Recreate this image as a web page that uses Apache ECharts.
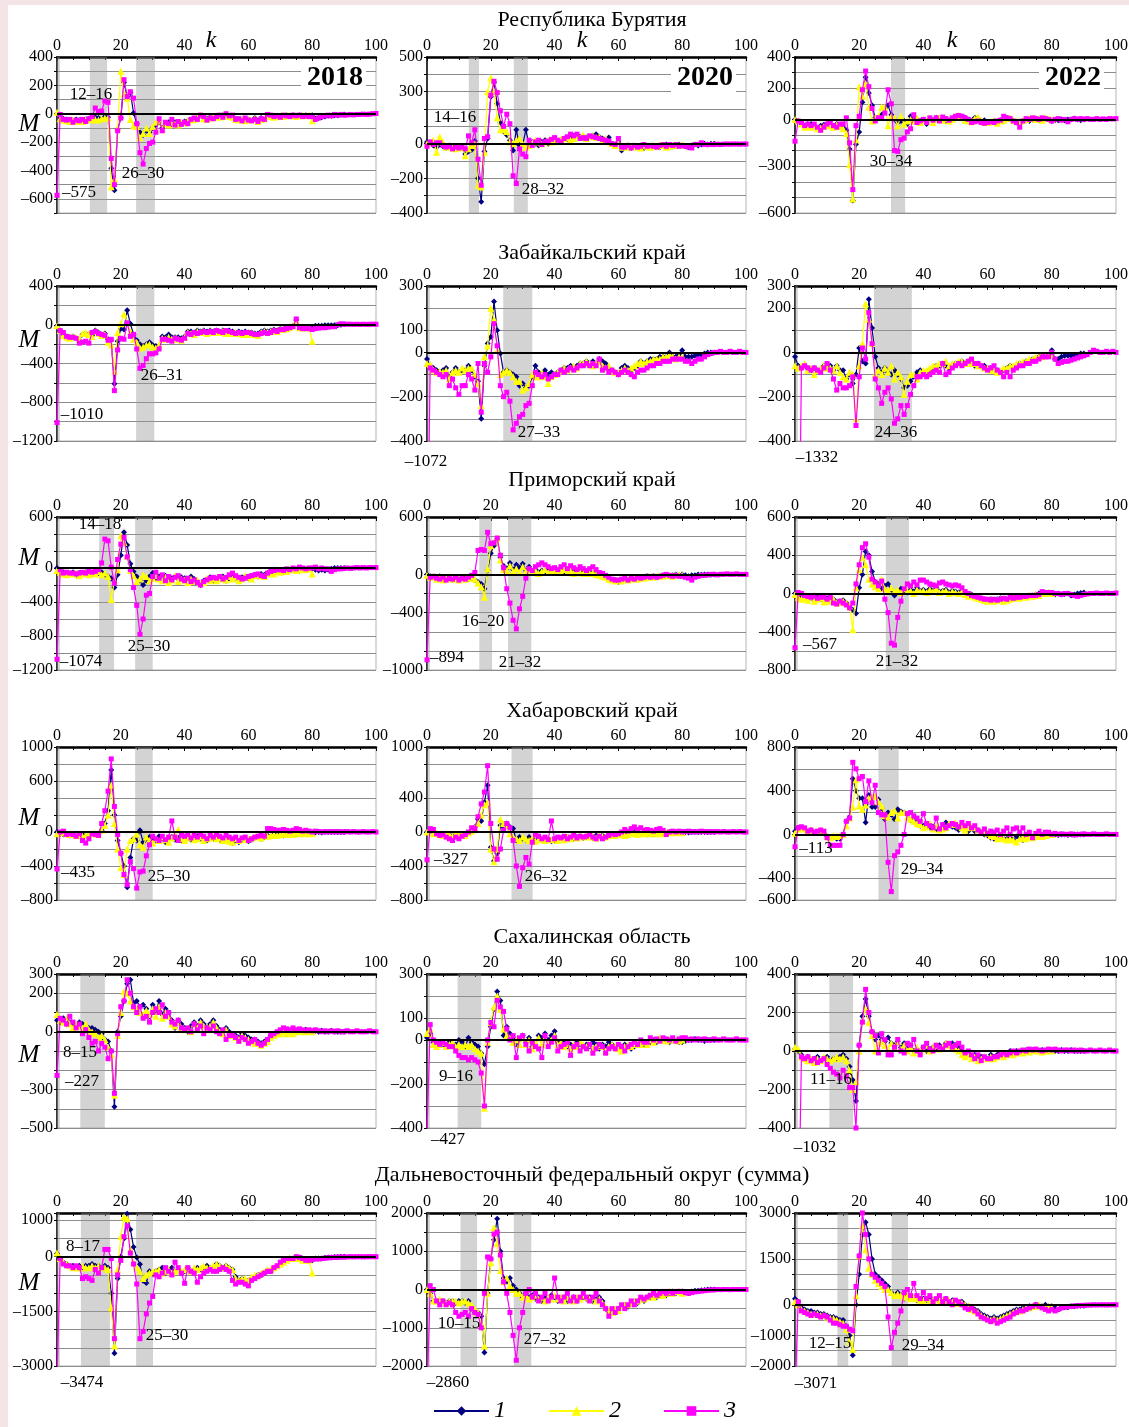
<!DOCTYPE html>
<html><head><meta charset="utf-8">
<script src="https://cdn.jsdelivr.net/npm/echarts@6/dist/echarts.min.js"></script>
<style>html,body{margin:0;padding:0;background:#fff}#c{width:1129px;height:1427px}</style>
</head><body><div id="c"></div>
<script>
const K_TICKS = [0, 20, 40, 60, 80, 100];
const SERIES_NAMES = ['1', '2', '3'];
const YEARS = ['2018', '2020', '2022'];
const REGIONS = ['Республика Бурятия', 'Забайкальский край', 'Приморский край', 'Хабаровский край', 'Сахалинская область', 'Дальневосточный федеральный округ (сумма)'];

// ---------- Республика Бурятия ----------
const BUR18_1 = [0,-30,-35,-40,-45,-50,-40,-45,-50,-40, -35,-30,-25,-30,-40,-20,-25,-385,-540,-110, -30,220,120,150,5,-70,-130,-150,-120,-130, -100,-80,-60,-100,-70,-60,-75,-60,-70,-65, -55,-50,-40,-35,-30,-15,-30,-35,-25,-30, -15,-20,-10,-5,-15,-20,-35,-40,-45,-35, -40,-45,-30,-50,-30,-35,-10,-15,-20,-15, -20,-15,-10,-15,-10,-15,-10,-15,-10,-15, -10,-35,-30,-25,-20,-15,-15,-10,-10,-8,-5];
const BUR18_2 = [10,-35,-45,-50,-55,-45,-55,-50,-55,-45, -40,-45,-40,-45,-35,-30,-30,-515,-460,-100, 300,140,110,-40,-85,-90,-170,-140,-100,-140, -90,-60,-50,-110,-70,-80,-60,-70,-80,-60, -65,-50,-45,-40,-30,-10,-35,-40,-30,-25, -20,-25,-15,-10,-20,-25,-40,-45,-40,-50, -45,-40,-35,-55,-40,-35,-15,-20,-25,-20, -15,-20,-15,-10,-15,-20,-15,-10,-15,-10,-50];
const BUR18_3 = [-575,-5,-40,-45,-40,-60,-45,-50,-40,-55, -35,-20,40,15,20,90,80,-315,-500,-120, -30,240,120,155,110,-70,-275,-355,-245,-210, -200,-130,-35,-120,-60,-70,-40,-80,-55,-75, -60,-70,-40,-30,-40,-10,-20,-45,-30,-35, -20,-10,-25,0,-15,-10,-40,-35,-50,-30, -45,-50,-40,-55,-35,-40,-5,-10,-20,-15, -25,-10,-15,-20,-10,-15,-10,-20,-15,-20, -20,-40,-30,-20,-15,-10,-15,-5,-10,-5, -10,-8,-5,-8,-5,-5,-3,-5,-3,0,2];
const BUR20_1 = [10,5,-10,-20,-5,-15,-25,-10,-20,-30, -20,-25,-60,-45,-35,15,-200,-335,-45,30, 270,355,230,120,70,50,20,-40,80,-10, -5,80,-10,10,0,-10,10,20,0,15, 20,10,20,30,25,40,45,50,40,30, 35,40,45,55,40,30,20,35,0,-5, 10,-40,-20,-10,-25,-15,-20,-10,-25,-15, -20,-10,-15,-20,-10,-5,-10,-15,-10,-5, -10,-15,-20,-10,-5,-10,-5,0,-5,0,0];
const BUR20_2 = [0,10,20,-50,40,10,-20,-15,-25,-30, -25,-20,-70,-30,-10,0,-240,-250,-50,300, 380,300,150,80,80,70,10,0,20,30, 0,-20,-10,5,20,10,0,10,20,10, 15,20,25,30,35,20,30,45,35,50, 30,40,45,35,40,20,30,10,0,-10, 10,-20,-15,-20,-10,-15,-20,-25,-10,-15, -20,-10,-15,-5,-10,-20,-15,-10,-5,-10,-5];
const BUR20_3 = [-15,10,-5,5,5,-10,-20,-15,-30,-20, -25,-20,-30,45,5,80,-90,-240,30,40, 280,360,295,190,100,170,115,-185,-230,-30, -60,-75,20,-10,10,20,-5,10,15,25, 35,20,10,30,40,55,45,55,30,35, 30,45,40,35,30,25,20,15,0,-5, 30,-20,-20,-10,-25,-10,-20,-15,-5,-15, -10,-15,-20,-10,-5,-15,-5,-10,-5,-15, -10,-15,-20,-25,-5,-5,5,-5,-5,-5, -5,-3,-5,-3,-2,-3,-2,-2,-3,-2,-2];
const BUR22_1 = [0,-10,-20,-40,-30,-30,-45,-55,-40,-35, -30,-40,-45,-30,-40,-50,-70,-190,-520,-160, -80,110,270,170,90,10,10,30,70,90, 30,0,-20,-10,-10,-30,20,10,0,-10, -5,-30,0,-5,10,-5,0,-10,-5,5, 10,20,15,10,0,-10,10,5,-10,-5, -15,-20,-10,-15,-5,-10,10,5,-10,-20, -30,-10,-5,-10,0,5,-5,0,5,0, -10,-5,-5,0,-5,0,0,5,0,-5,0];
const BUR22_2 = [0,-10,-30,-50,-45,-50,-40,-60,-55,-45, -35,-40,-50,-35,-45,-60,-90,-290,-510,-130, 210,150,230,80,-10,10,20,80,80,-40, 20,10,-40,20,-30,-10,0,-10,10,-20, 0,-10,5,-20,0,10,-5,5,-10,0, 20,25,10,-5,-10,-15,5,15,-5,-20, -20,-15,-10,-25,-10,-5,5,10,-5,-10, -15,-5,0,5,10,0,5,-5,10,5,0];
const BUR22_3 = [-140,-10,-20,-40,-30,-40,-30,-50,-70,-50, -30,-20,-40,-50,-30,-30,10,-150,-450,-40, 20,190,310,210,70,-10,10,10,40,190, 100,-200,-205,-130,-120,-80,-60,30,-20,-10, 0,-20,10,-5,10,-10,15,5,-5,10, 20,25,20,10,0,-20,-15,-10,-20,-25, -20,-15,-20,-10,-5,20,10,5,-10,-20, -50,-10,5,0,10,5,0,10,5,0, -10,0,5,-5,0,-15,0,5,0,5, 0,5,0,0,5,0,3,0,5,3,5];

// ---------- Забайкальский край ----------
const ZAB18_1 = [-10,-60,-100,-120,-130,-120,-140,-160,-100,-90, -100,-110,-60,-80,-100,-90,-150,-160,-610,-170, -40,-50,150,10,-100,-160,-200,-220,-200,-180, -210,-220,-230,-120,-130,-100,-130,-130,-130,-140, -120,-70,-70,-80,-60,-70,-60,-70,-60,-70, -60,-70,-60,-80,-60,-70,-80,-70,-80,-70, -80,-80,-90,-90,-70,-60,-70,-60,-50,-60, -40,-40,-30,-20,-10,50,-20,-20,-20,-20, -20,-10,-10,-10,-5,-5,-5,-5,-5,0,5];
const ZAB18_2 = [-10,-60,-110,-130,-140,-120,-130,-150,-90,-80, -100,-120,-70,-90,-110,-100,-180,-210,-480,-80, 10,110,20,-70,-150,-180,-240,-230,-210,-200, -230,-240,-210,-140,-150,-130,-150,-140,-150,-160, -130,-80,-90,-100,-70,-80,-70,-90,-70,-80, -70,-80,-70,-90,-80,-90,-80,-90,-100,-90, -100,-90,-100,-110,-80,-70,-80,-70,-60,-70, -50,-50,-40,-30,-10,40,-30,-30,-30,-30,-170];
const ZAB18_3 = [-1010,-60,-80,-120,-130,-130,-140,-190,-180,-170, -190,-80,-70,-90,-100,-110,-160,-150,-680,-260, -140,-150,20,-120,-100,-250,-450,-420,-350,-300, -300,-290,-250,-150,-150,-160,-170,-140,-150,-160, -140,-90,-100,-80,-90,-80,-70,-80,-70,-80, -60,-70,-80,-60,-70,-80,-90,-80,-90,-80, -80,-90,-100,-100,-90,-80,-90,-80,-60,-70, -50,-50,-40,-30,-20,60,-30,-40,-40,-40, -50,-40,-35,-30,-30,-25,-20,-20,0,10, 5,5,5,3,5,3,5,3,5,5,5];
const ZAB20_1 = [-30,-60,-70,-80,-90,-80,-70,-110,-90,-70, -90,-80,-80,-60,-80,-110,-130,-300,-60,40, 70,230,100,-5,-90,-80,-90,-100,-110,-150, -140,-160,-150,-110,-60,-90,-100,-80,-100,-90, -100,-90,-80,-70,-70,-60,-70,-60,-50,-50, -40,-50,-40,-50,-30,-40,-50,-70,-80,-90, -100,-70,-60,-70,-80,-70,-60,-40,-50,-40, -30,-30,-30,-20,-20,-20,0,-20,-20,-10, 10,-20,-20,-20,-15,-10,-10,-5,0,0,0];
const ZAB20_2 = [-50,-55,-80,-90,-85,-90,-80,-120,-90,-80, -90,-70,-80,-70,-70,-100,-140,-240,-20,30, 200,150,10,-100,-90,-80,-90,-110,-130,-130, -170,-160,-140,-100,-110,-110,-90,-110,-140,-110, -100,-90,-80,-70,-80,-70,-60,-70,-50,-50, -40,-50,-60,-50,-40,-60,-70,-60,-80,-90, -90,-80,-70,-80,-70,-60,-50,-40,-50,-40, -40,-30,-30,-30,-20,-20,-10,-20,-30,-20,-20];
const ZAB20_3 = [-1072,-70,-80,-90,-100,-110,-100,-150,-120,-160, -190,-150,-150,-100,-120,-170,-50,-270,-50,-90, -20,130,30,-150,-200,-180,-220,-350,-320,-290, -280,-240,-230,-150,-90,-100,-110,-100,-120,-110, -100,-100,-80,-90,-80,-70,-80,-70,-60,-60, -50,-60,-50,-60,-30,-80,-70,-90,-80,-90, -100,-90,-80,-90,-100,-110,-90,-80,-80,-70, -60,-60,-50,-50,-40,-40,-40,-30,-30,-30, -30,-40,-40,-50,-40,-30,-30,-20,-10,-5, 0,0,5,0,0,5,0,0,5,0,0];
const ZAB22_1 = [-20,-60,-70,-60,-70,-80,-70,-80,-80,-60, -70,-60,-80,-60,-80,-80,-120,-100,-140,-100, 20,-40,-50,240,110,-20,-70,-90,-70,-90, -100,-80,-100,-120,-160,-150,-130,-110,-90,-80, -90,-90,-80,-70,-60,-60,-50,-60,-70,-60, -50,-50,-40,-50,-40,-50,-60,-50,-60,-60, -70,-70,-80,-80,-90,-80,-70,-60,-70,-60, -50,-50,-40,-40,-30,-30,-20,-20,-10,-10, 10,-30,-30,-20,-15,-15,-15,-10,-10,-5,-5];
const ZAB22_2 = [-60,-70,-60,-50,-80,-70,-100,-80,-70,-60, -70,-70,-80,-60,-90,-110,-120,-90,-100,-300, -60,40,220,150,40,-100,-80,-100,-70,-90, -60,-120,-90,-110,-190,-130,-100,-100,-120,-90, -80,-80,-70,-60,-60,-50,-50,-40,-60,-50, -50,-40,-40,-50,-40,-50,-50,-60,-60,-70, -70,-80,-80,-90,-80,-70,-70,-60,-60,-50, -50,-40,-40,-30,-30,-20,-20,-20,-10,-10,-10];
const ZAB22_3 = [null,-1332,-70,-60,-70,-80,-70,-80,-90,-70, -50,-80,-120,-170,-140,-160,-160,-150,-110,-330, -110,20,-30,180,40,-120,-160,-230,-180,-160, -210,-320,-300,-240,-280,-240,-190,-150,-110,-110, -100,-110,-100,-90,-80,-90,-50,-100,-90,-70, -60,-50,-60,-50,-40,-30,-50,-50,-60,-70, -80,-70,-60,-80,-90,-110,-90,-110,-80,-70, -60,-60,-50,-50,-40,-40,-30,-20,-20,-20, 0,-30,-50,-45,-40,-40,-35,-30,-25,-20, -15,-10,0,10,5,0,0,5,0,5,0];

// ---------- Приморский край ----------
const PRIM18_1 = [0,-60,-50,-70,-60,-50,-80,-60,-70,-50, -60,-70,-40,-60,-50,-80,-100,-120,-230,-80, 150,420,270,50,-40,-100,-150,-200,-150,-100, -60,-120,-100,-140,-90,-160,-120,-100,-130,-110, -120,-150,-100,-130,-160,-200,-150,-130,-110,-150, -140,-120,-100,-150,-120,-100,-120,-140,-110,-100, -120,-100,-80,-100,-70,-80,-60,-50,-60,-30, -30,-40,-20,-30,-20,-20,-30,-10,-20,-10, -10,-20,-30,-20,-30,-20,-10,0,0,0,0];
const PRIM18_2 = [-30,-50,-70,-80,-60,-70,-60,-90,-70,-60, -80,-60,-70,-40,-80,-60,-100,-370,-150,-20, 380,300,140,-30,-90,-160,-130,-80,-100,-150, -120,-90,-130,-150,-110,-170,-140,-90,-160,-130, -140,-170,-130,-160,-140,-180,-170,-120,-150,-130, -150,-130,-120,-140,-100,-130,-110,-150,-130,-90, -110,-130,-90,-80,-90,-100,-70,-60,-70,-40, -50,-30,-40,-20,-10,-30,-20,-10,-20,-10,-70];
const PRIM18_3 = [-1074,-20,-60,-50,-60,-60,-70,-60,-50,-60, -40,-50,-40,-20,60,340,320,10,-180,100, 280,360,130,-20,-230,-440,-780,-600,-320,-300, -100,-50,-120,-80,-150,-100,-140,-110,-90,-130, -150,-120,-160,-140,-170,-200,-160,-140,-120,-110, -120,-100,-130,-110,-80,-60,-90,-110,-130,-120, -100,-90,-80,-70,-90,-100,-60,-40,-30,-20, -20,-30,-10,-20,0,-10,10,0,-10,0, 0,10,-10,0,-10,-10,-40,-20,-10,-10, -5,0,-5,0,5,0,5,0,5,5,5];
const PRIM20_1 = [0,-20,-30,-40,-20,-50,-30,-40,-60,-30, -50,-40,-30,-50,-40,-60,-80,-100,-150,40, 220,300,370,180,90,60,120,50,100,70, 110,40,80,30,50,20,40,30,60,40, 50,30,40,20,50,30,40,20,30,40, 20,30,10,20,0,-10,-20,-40,-60,-60, -80,-60,-50,-60,-40,-50,-40,-30,-40,-20, -30,-20,-30,-20,-10,-10,-20,-10,0,-10, 0,-10,-20,-10,-10,0,-5,0,0,-5,0];
const PRIM20_2 = [-10,-30,-20,-50,-30,-60,-40,-20,-50,-40, -60,-30,-50,-40,-30,-50,-90,-130,-240,60, 300,340,380,150,50,40,90,30,60,20, 80,30,50,20,40,10,30,50,20,30, 40,20,30,50,20,40,10,30,20,10, 30,10,20,0,-10,-20,-30,-50,-60,-70, -60,-70,-50,-60,-50,-40,-50,-30,-40,-30, -20,-30,-20,-10,-20,-10,-10,-20,-10,-5,-10];
const PRIM20_3 = [-894,-30,-20,-40,-50,-30,-60,-40,-50,-30, -60,-40,-50,-30,-10,20,250,260,250,440, 320,330,380,200,70,-150,-300,-480,-570,-360, -230,-40,60,40,80,100,120,100,80,60, 70,50,80,100,60,90,70,50,80,60, 40,60,80,50,20,10,-10,-30,-50,-60, -60,-50,-40,-60,-40,-50,-30,-40,-30,-20, -30,-20,-30,-20,-10,0,-10,-20,-10,-20, -20,-30,-40,-60,-30,-20,-10,-10,-5,0, 0,-5,0,0,5,0,0,5,0,0,0];
const PRIM22_1 = [0,-30,-50,-40,-60,-50,-70,-40,-60,-80, -50,-70,-60,-90,-80,-70,-100,-150,-170,-210, 60,200,440,400,230,120,100,50,80,100, 40,-20,20,50,30,10,40,20,60,30, 40,20,50,30,60,20,30,40,10,30, 20,10,30,0,-20,-10,-30,-40,-50,-60, -70,-60,-70,-60,-50,-70,-60,-50,-40,-50, -40,-30,-40,-30,-20,-10,0,10,0,10, 0,-10,0,-10,-5,0,-20,-10,0,5,10];
const PRIM22_2 = [-10,-40,-60,-50,-70,-40,-80,-60,-50,-90, -70,-80,-60,-100,-90,-80,-100,-130,-380,60, 250,380,300,150,100,70,50,150,50,30, 60,20,40,10,50,20,30,0,40,20, 30,10,40,20,50,10,20,30,0,20, 10,0,20,-10,-30,-20,-40,-50,-60,-70, -80,-70,-80,-70,-60,-80,-70,-60,-50,-40, -50,-30,-40,-20,-30,-10,-20,10,0,10,0];
const PRIM22_3 = [-567,10,0,-20,-30,-40,-20,-50,-40,-30, -60,-40,-100,-110,-80,-100,-120,-150,-100,100, 300,480,520,380,150,120,80,130,-60,-200, -520,-540,-250,-80,50,100,80,120,90,140, 140,120,100,90,80,110,120,100,90,80, 90,80,60,20,0,-20,-30,-40,-50,-60, -60,-70,-60,-70,-60,-50,-60,-40,-50,-40, -40,-30,-30,-20,-20,-20,-10,20,10,10, 10,0,0,-10,0,0,-10,-20,-30,-20, -10,-5,0,0,5,0,0,5,0,0,5];

// ---------- Хабаровский край ----------
const KHAB18_1 = [0,-20,-30,-20,-40,-30,-20,-40,-30,-50, -40,-20,-30,-20,20,100,250,730,200,-100, -250,-400,-650,-300,-80,-100,20,-120,-80,-60, -100,-100,-50,-80,-120,-80,-60,-90,-70,-100, -80,-60,-90,-70,-50,-80,-60,-100,-70,-80, -60,-90,-110,-80,-100,-130,-100,-120,-90,-80, -110,-90,-70,-60,-80,-60,-40,-50,-30,-40, -30,-40,-20,-30,-20,-20,-10,-20,-10,-10, -10,-5,0,-5,0,0,0,0,0,0,0];
const KHAB18_2 = [-20,-10,0,-20,-30,-20,-40,-30,-50,-40, -30,-20,-10,-30,20,80,200,550,100,-200, -420,-500,-200,-100,-80,-20,-150,-180,-60,-100, -130,-80,-100,-60,-90,-120,-70,-30,30,-80, -100,-70,-60,-90,-80,-60,-100,-80,-70,-60, -80,-70,-100,-90,-110,-120,-80,-100,-70,-90, -80,-70,-60,-50,-70,-40,-50,-40,-30,-40, -30,-20,-30,-20,-30,-10,-20,-10,-20,-10,-20];
const KHAB18_3 = [-435,0,10,-30,-20,-30,-50,-20,-100,-130, -80,-20,-30,-40,100,250,480,860,300,-30, -250,-500,-620,-350,-430,-660,-470,-460,-280,-150, -50,-80,-100,-50,-90,-60,130,-60,-100,-40, -50,-30,-70,-40,-60,-30,-50,-80,-40,-60, -30,-50,-70,-40,-60,-80,-60,-100,-70,-60, -100,-80,-60,-50,-40,-50,40,40,30,20, 20,30,20,10,20,40,30,10,20,10, 0,10,5,0,5,0,5,0,5,0, 0,5,0,5,0,0,5,0,0,5,0];
const KHAB20_1 = [0,10,-10,-20,-30,-20,-40,-30,-50,-30, -40,-30,-20,-10,20,60,150,130,350,550, -180,-340,-250,80,50,100,60,40,-100,-60, -80,-90,-60,-80,-100,-70,-90,-100,-80,-110, -100,-90,-70,-80,-60,-70,-80,-60,-50,-70, -60,-50,-70,-40,-50,-40,-60,-30,-40,-30, -20,-30,-10,-20,0,0,-10,-20,-10,-30, -10,-20,-10,0,-10,-10,0,-10,0,0, 0,0,-5,0,0,0,0,0,0,0,0];
const KHAB20_2 = [0,20,-20,-10,-30,-40,-20,-30,-50,-20, -30,-20,-40,-10,10,50,100,200,320,350, -200,-350,-200,150,100,80,-20,-60,-80,-100, -60,-80,-100,-70,-110,-90,-80,-100,-70,-90, -80,-100,-70,-90,-60,-80,-60,-70,-50,-60, -40,-60,-50,-70,-40,-50,-60,-40,-30,-40, -30,-20,-40,-30,-10,-20,-30,-20,-10,-20, -20,-10,-20,-10,-20,-10,-10,0,-10,0,-10];
const KHAB20_3 = [-327,40,30,-20,-40,-30,-60,-80,-100,-60, -80,-50,-30,0,50,40,180,330,470,780, 100,-200,-320,-200,20,100,50,-100,-400,-640, -420,-300,-380,-120,-30,-50,-80,-60,-90,130, -80,-60,-70,-50,-80,-60,-40,-70,-50,-60, -50,-30,-60,-80,-50,-80,-60,-40,-20,-30, -20,0,30,10,40,60,30,50,20,30, 20,10,30,40,20,-30,0,10,0,10, 0,5,10,0,5,0,10,5,0,5, 0,5,0,5,0,0,5,0,5,0,0];
const KHAB22_1 = [30,60,60,50,20,40,20,10,20,10, -20,-30,-20,-40,-40,0,120,160,510,400, 330,330,110,360,250,250,320,240,140,200, 180,140,230,210,200,180,130,130,120,80, 80,90,60,70,50,40,60,110,90,70, 60,40,60,50,30,60,30,40,20,0, -10,-30,-40,-30,-30,-40,-40,-30,-50,-20, -30,-50,-30,-20,-20,-10,-20,-10,0,-10, 0,0,-5,0,0,-5,0,0,0,0,0];
const KHAB22_2 = [10,50,60,50,30,40,20,30,40,20, -20,-30,-10,-20,-10,0,80,150,250,500, 260,230,270,330,350,350,300,260,170,160, 200,220,150,200,200,160,140,120,100,90, 60,70,100,50,80,40,50,60,100,90, 110,80,60,40,60,70,60,40,20,20, 10,-10,-20,-40,-30,-40,-50,-40,-50,-70, -40,-30,-40,-20,-30,-20,-10,-20,-10,0,0];
const KHAB22_3 = [-113,60,70,60,30,40,20,30,40,30, -30,-100,-100,-100,-100,0,120,150,660,600, 510,530,300,490,290,450,200,180,180,-255, -523,-194,-160,-100,0,190,200,170,150,120, 190,100,80,60,150,50,90,60,80,100, 90,70,110,80,100,60,80,40,20,50, 10,30,20,40,0,30,60,0,50,60, 20,60,0,20,-30,10,30,0,20,20, 0,10,0,5,0,0,5,-5,0,0, 5,0,0,5,0,0,0,5,0,0,0];

// ---------- Сахалинская область ----------
const SAKH18_1 = [60,50,70,40,50,40,30,50,40,30, 20,20,10,0,-10,-40,-50,-100,-390,0, 80,160,250,270,150,160,130,140,120,80, 140,100,160,90,120,100,60,20,60,40, 20,0,30,50,30,60,40,20,40,60, 30,10,0,20,0,-10,-20,-30,-10,-20, -30,-40,-40,-50,-60,-50,-40,-20,-10,-10, -5,0,-10,0,-5,0,5,0,10,5, 0,5,0,5,0,0,5,0,0,0,0];
const SAKH18_2 = [90,60,50,70,40,20,40,30,20,40, 10,0,-10,-30,-20,-40,-80,-120,-330,-20, 100,210,200,160,130,120,100,90,110,90, 120,80,130,70,100,80,40,30,50,20, 10,20,0,40,20,50,30,10,30,50, 20,0,-10,10,-20,-20,-30,-40,-20,-30, -40,-50,-60,-60,-70,-60,-50,-30,-20,-10, -10,0,-10,0,-10,5,0,5,0,5,0];
const SAKH18_3 = [-227,70,60,40,80,50,20,40,-10,10, -30,-60,-50,-100,-60,-80,-140,-100,-320,-10, 130,160,270,200,130,100,130,70,80,50, 100,120,100,140,80,100,50,40,60,20, 10,20,0,40,10,30,-10,20,10,30, 0,-10,10,-40,-20,-20,-30,-50,-30,-40, -60,-50,-40,-60,-70,-60,-40,-20,-10,0, 10,20,15,10,20,10,15,10,5,10, 5,10,5,0,5,0,5,0,5,0, 0,5,0,0,5,0,0,0,5,0,0];
const SAKH20_1 = [10,30,-10,-20,-10,-20,-30,-10,-20,-20, 0,-10,-30,10,-10,-20,-30,-60,-110,-30, 60,140,220,180,20,60,30,10,-20,0, 20,-10,10,-30,-20,20,10,30,0,20, 40,-10,-20,-10,-30,-20,-30,-10,-20,-30, -20,-30,-10,-20,-40,-20,-30,-10,-20,-40, -40,-30,-20,-30,-40,-30,-20,-10,-20,-10, -10,0,-10,0,5,0,-10,0,-5,-10, -10,-5,0,0,5,0,0,-5,0,0,0];
const SAKH20_2 = [30,50,-20,-30,-20,-10,-30,-20,-10,-30, -20,-30,-20,-30,-20,-40,-50,-60,-310,-10, 80,150,200,140,50,20,10,-10,0,-20, 10,-20,0,-40,-10,10,-20,10,-10,0, 20,-20,-10,-30,-20,-40,-20,-30,-10,-20, -30,-20,-40,-30,-20,-30,-50,-30,-20,-30, -40,-50,-30,-20,-30,-20,-10,-20,-10,-20, 0,-10,0,10,0,-5,0,5,0,-5,0];
const SAKH20_3 = [-427,70,0,-10,-20,-10,-20,-30,-30,-50, -70,-80,-80,-90,-80,-90,-100,-150,-300,0, 80,60,180,150,130,50,0,20,-80,10, 20,-20,-50,-10,-30,-40,-80,20,-30,-10, 10,-50,-30,-20,-10,-70,-30,-20,-50,-30, -40,-20,-60,-40,-20,-30,-60,-40,-30,-40, -20,-30,-50,-30,-20,-10,-20,0,-10,-10, 10,0,5,-5,10,5,0,10,-5,5, 10,10,0,5,0,5,0,5,0,0, 5,0,0,5,0,0,0,5,0,0,0];
const SAKH22_1 = [10,0,-20,-40,-30,-50,-40,-30,-50,-40, -30,-50,-40,-40,-30,-20,-40,-80,-150,-260, 30,180,270,180,100,60,80,60,50,70, 40,30,50,20,40,10,30,0,10,-10, 20,0,10,20,10,30,20,40,30,40, 30,20,0,-20,-10,-30,-20,-40,-30,-30, -40,-20,-30,-20,-10,-20,-10,0,-10,0, -5,0,5,0,5,0,0,5,0,0, 5,0,0,5,0,0,5,0,0,0,0];
const SAKH22_2 = [20,10,-30,-40,-50,-40,-60,-40,-50,-30, -40,-50,-40,-30,-40,-30,-50,-100,-200,-160, 0,160,220,150,80,0,40,50,30,10, 40,20,50,10,30,0,20,-10,20,0, 10,30,0,20,30,10,20,40,30,20, 10,0,-20,-30,-20,-40,-30,-50,-40,-30, -40,-30,-40,-30,-20,-30,-20,-10,-20,-10, 0,-10,0,-5,0,5,0,-5,0,5,0];
const SAKH22_3 = [null,-1032,-30,-40,-30,-50,-40,-60,-50,-40, -70,-90,-110,-120,-140,-100,-130,-190,-190,-400, 30,150,320,200,100,80,-10,90,60,-20, -20,20,60,0,-10,40,30,60,0,-20, 20,40,10,0,30,20,10,30,40,20, 30,40,20,-10,0,-20,-40,-20,-50,-30, -40,-40,-30,-30,-20,-10,-20,-10,0,-10, 0,5,0,10,5,10,5,0,5,10, 5,10,5,0,5,5,0,5,0,5, 0,0,5,0,0,5,0,0,5,0,0];

// ---------- Дальневосточный федеральный округ (сумма) ----------
const DFO18_1 = [90,-50,-150,-200,-250,-250,-300,-250,-300,-250, -250,-200,-250,-250,-300,-250,-300,-1000,-2650,-600, 0,500,1180,750,270,-20,-210,-660,-720,-400, -480,-400,-350,-300,-450,-350,-300,-400,-350,-450, -400,-300,-400,-350,-300,-350,-300,-250,-300,-350, -200,-250,-300,-250,-300,-350,-550,-650,-600,-650, -650,-600,-550,-500,-500,-450,-400,-400,-300,-250, -200,-150,-100,-50,-50,0,-20,-50,-100,-80, -100,-50,-50,-50,-30,-20,-20,-10,-10,0,0];
const DFO18_2 = [100,-50,-150,-200,-250,-300,-300,-300,-250,-300, -300,-250,-300,-250,-300,-300,-350,-1400,-2450,-350, 550,1100,1050,200,-150,-300,-400,-600,-500,-450, -400,-400,-350,-450,-400,-350,-450,-400,-350,-400, -350,-300,-400,-300,-350,-300,-250,-300,-300,-250, -200,-250,-300,-250,-300,-350,-600,-650,-600,-600, -650,-550,-500,-500,-450,-400,-350,-350,-300,-250, -200,-150,-100,-50,-50,-20,-50,-100,-80,-100,-450];
const DFO18_3 = [-3474,-50,-200,-250,-250,-300,-250,-300,-600,-550, -600,-650,-350,-450,-300,200,200,-50,-2250,-500, -100,550,850,100,-200,-750,-2250,-2050,-1570,-1270, -1090,-500,-550,-450,-300,-400,-500,-150,-300,-450, -730,-300,-400,-450,-700,-550,-450,-400,-350,-400, -400,-350,-300,-350,-400,-650,-750,-700,-700,-750, -800,-650,-600,-550,-500,-450,-400,-400,-300,-250, -150,-100,-50,-50,-50,0,-20,-50,-100,-100, -80,-60,-60,-50,-40,-30,-20,-20,-10,-10, -10,-5,0,-5,0,0,-5,0,0,0,0];
const DFO20_1 = [0,-100,-300,-300,-350,-300,-350,-300,-300,-350, -300,-300,-350,-300,-500,-600,-600,-700,-1650,-100, 800,1300,1850,1000,300,200,300,100,0,-100, -200,-100,-200,-150,-250,-200,-300,-200,-250,-150, -200,-300,-250,-200,-300,-250,-200,-300,-250,-200, -250,-200,-300,-250,-200,-300,-500,-600,-550,-600, -500,-450,-400,-450,-350,-300,-350,-250,-300,-200, -200,-150,-200,-150,-100,-150,-100,-50,-100,-50, -50,-80,-100,-50,-30,-30,-20,-10,0,0,0];
const DFO20_2 = [0,-100,-300,-300,-250,-300,-350,-300,-300,-300, -350,-300,-300,-350,-400,-500,-600,-900,-1480,-100, 700,1620,1200,500,200,300,100,0,-100,-100, -200,-150,-250,-200,-150,-250,-200,-300,-200,-250, -150,-250,-200,-300,-200,-250,-300,-200,-250,-150, -200,-250,-200,-300,-250,-350,-450,-550,-600,-500, -550,-450,-400,-400,-350,-300,-300,-250,-250,-200, -150,-200,-150,-100,-150,-100,-50,-100,-50,-50,-100];
const DFO20_3 = [-2860,100,0,-300,-400,-300,-400,-350,-400,-600, -700,-650,-600,-700,-500,-600,-650,-1000,-100,850, 800,1450,1500,900,200,-100,-600,-1200,-1850,-1000, -600,-100,0,-200,-100,-300,-200,-100,-300,-200, 300,-200,-300,-200,-100,-300,-200,-300,-200,-100, -200,-300,-200,-100,-300,-400,-500,-700,-500,-600, -500,-400,-500,-400,-300,-400,-300,-200,-250,-200, -150,-100,-150,-100,-50,-100,-50,-100,-50,-50, -50,-80,-100,-80,-60,-50,-40,-30,-20,-10, -10,0,-5,0,0,-5,0,0,0,0,0];
const DFO22_1 = [200,100,-100,-150,-200,-200,-250,-250,-300,-300, -350,-400,-400,-450,-500,-500,-700,-1000,-1650,0, 1000,2300,2700,2300,1500,1000,900,800,700,600, 400,300,400,300,200,300,200,250,150,200, 200,150,250,150,200,100,150,200,100,150, 100,50,100,0,-50,-100,-150,-200,-300,-350, -400,-450,-400,-450,-400,-350,-300,-250,-200,-150, -150,-100,-100,-50,-50,0,-50,-50,0,-50, -50,-100,-150,-100,-80,-80,-50,-50,-30,-30,-30];
const DFO22_2 = [100,0,-150,-200,-250,-300,-300,-300,-350,-350, -400,-450,-450,-500,-550,-600,-800,-1200,-1450,300, 1600,2600,1800,1200,1000,800,700,600,500,500, 400,300,350,300,250,300,200,250,200,150, 150,200,100,150,200,100,150,100,150,100, 50,100,50,0,-50,-150,-200,-250,-350,-400, -450,-500,-450,-500,-450,-400,-350,-300,-250,-200, -200,-150,-100,-100,-50,-50,0,-50,-100,-50,-100];
const DFO22_3 = [-3071,100,-200,-250,-300,-350,-300,-350,-400,-350, -400,-500,-600,-600,-650,-700,-700,-800,-850,600, 1600,3000,2300,1500,1000,900,800,700,600,-400, -1400,-900,-600,-200,400,500,300,700,300,200, 400,200,300,100,200,300,100,200,100,0, 150,100,0,-100,-150,-100,-200,-300,-400,-450, -500,-550,-500,-600,-550,-500,-450,-400,-300,-250, -200,-200,-150,-100,-50,0,-50,-100,-150,-200, -150,-200,-150,-100,-80,-60,-50,-40,-30,-20, -20,-10,-10,0,-5,0,0,-5,0,0,0];

// ---------- panel setup (axes ranges, shaded k-intervals) ----------
const PANELS = [
  {r:0,c:0,min:-700,max:400,step:100,yl:[400,200,0,-200,-400,-600],s:[BUR18_1,BUR18_2,BUR18_3],bands:[[10.3,15.7],[24.8,30.7]],strip:true},
  {r:0,c:1,min:-400,max:500,step:100,yl:[500,300,0,-200,-400],s:[BUR20_1,BUR20_2,BUR20_3],bands:[[13.1,16.3],[27.2,31.6]],strip:false},
  {r:0,c:2,min:-600,max:400,step:100,yl:[400,200,0,-300,-600],s:[BUR22_1,BUR22_2,BUR22_3],bands:[[29.9,34.3]],strip:false},
  {r:1,c:0,min:-1200,max:400,step:200,yl:[400,0,-400,-800,-1200],s:[ZAB18_1,ZAB18_2,ZAB18_3],bands:[[24.8,30.5]],strip:true},
  {r:1,c:1,min:-400,max:300,step:100,yl:[300,100,0,-200,-400],s:[ZAB20_1,ZAB20_2,ZAB20_3],bands:[[23.9,33]],strip:true},
  {r:1,c:2,min:-400,max:300,step:100,yl:[300,200,0,-200,-400],s:[ZAB22_1,ZAB22_2,ZAB22_3],bands:[[24.6,36.4]],strip:true},
  {r:2,c:0,min:-1200,max:600,step:200,yl:[600,0,-400,-800,-1200],s:[PRIM18_1,PRIM18_2,PRIM18_3],bands:[[13.2,17.9],[24.5,30]],strip:true},
  {r:2,c:1,min:-1000,max:600,step:200,yl:[600,0,-400,-1000],s:[PRIM20_1,PRIM20_2,PRIM20_3],bands:[[16.4,20.4],[25.4,32.7]],strip:true},
  {r:2,c:2,min:-800,max:800,step:200,yl:[800,400,0,-400,-800],ylt:{800:'600'},s:[PRIM22_1,PRIM22_2,PRIM22_3],bands:[[28.3,35.5]],strip:true},
  {r:3,c:0,min:-800,max:1000,step:200,yl:[1000,600,0,-400,-800],s:[KHAB18_1,KHAB18_2,KHAB18_3],bands:[[24.5,30]],strip:true},
  {r:3,c:1,min:-800,max:1000,step:200,yl:[1000,400,0,-400,-800],s:[KHAB20_1,KHAB20_2,KHAB20_3],bands:[[26.5,33.1]],strip:true},
  {r:3,c:2,min:-600,max:800,step:200,yl:[800,400,0,-400,-600],s:[KHAB22_1,KHAB22_2,KHAB22_3],bands:[[26,32.3]],strip:true},
  {r:4,c:0,min:-500,max:300,step:100,yl:[300,200,0,-300,-500],s:[SAKH18_1,SAKH18_2,SAKH18_3],bands:[[7.3,15]],strip:true},
  {r:4,c:1,min:-400,max:300,step:100,yl:[300,100,0,-200,-400],s:[SAKH20_1,SAKH20_2,SAKH20_3],bands:[[9.6,17]],strip:true},
  {r:4,c:2,min:-400,max:400,step:100,yl:[400,200,0,-200,-400],s:[SAKH22_1,SAKH22_2,SAKH22_3],bands:[[10.7,18.1]],strip:true},
  {r:5,c:0,min:-3000,max:1200,step:500,yl:[1000,0,-1500,-3000],s:[DFO18_1,DFO18_2,DFO18_3],bands:[[7.5,16.6],[24.8,30.1]],strip:true},
  {r:5,c:1,min:-2000,max:2000,step:500,yl:[2000,1000,0,-1000,-2000],s:[DFO20_1,DFO20_2,DFO20_3],bands:[[10.5,15.7],[27.2,32.7]],strip:true},
  {r:5,c:2,min:-2000,max:3000,step:500,yl:[3000,1500,0,-1000,-2000],s:[DFO22_1,DFO22_2,DFO22_3],bands:[[13.2,16.6],[30.1,35.2]],strip:true}
];

const ANNOTATIONS = [
  ['12–16',91,95],['26–30',143,174],['–575',79,193],
  ['14–16',455,118],['28–32',543,190],
  ['30–34',891,162],
  ['26–31',162,376],['–1010',82,415],
  ['27–33',539,433],['–1072',426,462],
  ['24–36',896,433],['–1332',817,458],
  ['14–18',100,525],['25–30',149,647],['–1074',81,662],
  ['16–20',483,622],['21–32',520,663],['–894',447,658],
  ['21–32',897,662],['–567',820,645],
  ['–435',78,873],['25–30',169,877],
  ['–327',451,860],['26–32',546,877],
  ['–113',816,849],['29–34',922,870],
  ['8–15',80,1053],['–227',82,1082],
  ['9–16',456,1077],['–427',448,1140],
  ['11–16',831,1080],['–1032',815,1148],
  ['8–17',83,1247],['25–30',167,1336],['–3474',82,1383],
  ['10–15',459,1324],['27–32',545,1340],['–2860',448,1383],
  ['12–15',830,1344],['29–34',923,1346],['–3071',816,1384]
];

// ---------- build chart ----------
const FONT = "'Liberation Serif','Times New Roman',Times,serif";
const AXFONT = 'Liberation Serif';
const COLS = [[57,376],[427,746],[795,1116]];
const ROWS = [[57,213],[286,441],[517,670],[747,900],[974,1128],[1213,1366]];
const TITLE_Y = [20,253,480,711,937,1175];
const M_Y = [124,340,558,818,1055,1283];
const STYLE = [
  {color:'#000080', symbol:'diamond', size:6},
  {color:'#ffff00', symbol:'triangle', size:7},
  {color:'#ff00ff', symbol:'rect', size:5}
];
const neg = v => v < 0 ? '\u2013' + Math.abs(v) : String(v);

const grid = [], xAxis = [], yAxis = [], series = [];
PANELS.forEach((p, i) => {
  const [l, r] = COLS[p.c], [t, b] = ROWS[p.r];
  grid.push({left:l, top:t, width:r-l, height:b-t, show:true, borderColor:'#b5b5b5', borderWidth:1, outerBoundsMode:'none'});
  xAxis.push({type:'value', gridIndex:i, position:'top', min:0, max:100, interval:20,
    axisLine:{show:true, onZero:false, lineStyle:{color:'#000', width:2.5}},
    axisTick:{show:true, inside:true, length:4, lineStyle:{color:'#000'}},
    minorTick:{show:true, splitNumber:4, length:3, lineStyle:{color:'#000'}},
    splitLine:{show:false},
    axisLabel:{color:'#000', fontFamily:AXFONT, fontSize:16, margin:3,
      formatter: v => K_TICKS.indexOf(Math.round(v)) >= 0 ? String(Math.round(v)) : ''}});
  const lm = {};
  p.yl.forEach(v => { lm[v] = (p.ylt && p.ylt[v]) || neg(v); });
  yAxis.push({type:'value', gridIndex:i, min:p.min, max:p.max, interval:p.step,
    axisLine:{show:true, onZero:false, lineStyle:{color:'#000', width:1.5}},
    axisTick:{show:true, length:3, lineStyle:{color:'#000'}},
    splitLine:{show:true, lineStyle:{color:'#8c8c8c', width:1}},
    axisLabel:{color:'#000', fontFamily:AXFONT, fontSize:16, margin:4, showMinLabel:true, showMaxLabel:true,
      formatter: v => { const k = Math.round(v); return lm[k] !== undefined ? lm[k] : ''; }}});
  const bands = p.bands.slice();
  if (p.strip) bands.push([0, 0.9]);
  series.push({type:'line', name:'_h', xAxisIndex:i, yAxisIndex:i, data:[[0,0]], showSymbol:false, silent:true, z:1,
    lineStyle:{opacity:0},
    markArea:{silent:true, itemStyle:{color:'rgba(150,150,150,0.42)'}, data: bands.map(bd => [{xAxis:bd[0]}, {xAxis:bd[1]}])},
    markLine:{silent:true, symbol:['none','none'], label:{show:false}, lineStyle:{color:'#000', width:2, type:'solid'}, data:[{yAxis:0}]}});
  p.s.forEach((arr, j) => {
    const st = STYLE[j];
    series.push({type:'line', name:SERIES_NAMES[j], xAxisIndex:i, yAxisIndex:i, z:2+j,
      data: arr.map((v, k) => [k, v]),
      symbol:st.symbol, symbolSize:st.size, showSymbol:true,
      lineStyle:{color:st.color, width:1.2}, itemStyle:{color:st.color}});
  });
});

const graphic = [
  {type:'rect', shape:{x:0, y:0, width:8, height:1427}, style:{fill:'#f5e4e6'}, z:200},
  {type:'rect', shape:{x:0, y:0, width:1129, height:5}, style:{fill:'#f5e4e6'}, z:200}
];
REGIONS.forEach((t, i) => graphic.push({type:'text', z:100, style:{text:t, x:592, y:TITLE_Y[i], align:'center', verticalAlign:'middle', font:'22px ' + FONT, fill:'#000'}}));
YEARS.forEach((t, i) => graphic.push({type:'text', z:100, style:{text:t, x:[366,736,1104][i], y:78, align:'right', verticalAlign:'middle', font:'bold 28px ' + FONT, fill:'#000', backgroundColor:'#fff', padding:[1,3,1,6]}}));
[211, 582, 952].forEach(x => graphic.push({type:'text', z:100, style:{text:'k', x:x, y:41, align:'center', verticalAlign:'middle', font:'italic 24px ' + FONT, fill:'#000'}}));
M_Y.forEach(y => graphic.push({type:'text', z:100, style:{text:'M', x:29, y:y, align:'center', verticalAlign:'middle', font:'italic 25px ' + FONT, fill:'#000'}}));
ANNOTATIONS.forEach(a => graphic.push({type:'text', z:100, style:{text:a[0], x:a[1], y:a[2], align:'center', verticalAlign:'middle', font:'17px ' + FONT, fill:'#000'}}));

const chart = echarts.init(document.getElementById('c'), null, {renderer:'canvas'});
chart.setOption({
  backgroundColor:'#fff',
  animation:false,
  grid, xAxis, yAxis, series, graphic,
  legend:{data:SERIES_NAMES, left:428, top:1394, itemWidth:55, itemHeight:12, itemGap:42,
    textStyle:{fontFamily:AXFONT, fontStyle:'italic', fontSize:24, color:'#000'}}
});
</script>
</body></html>
